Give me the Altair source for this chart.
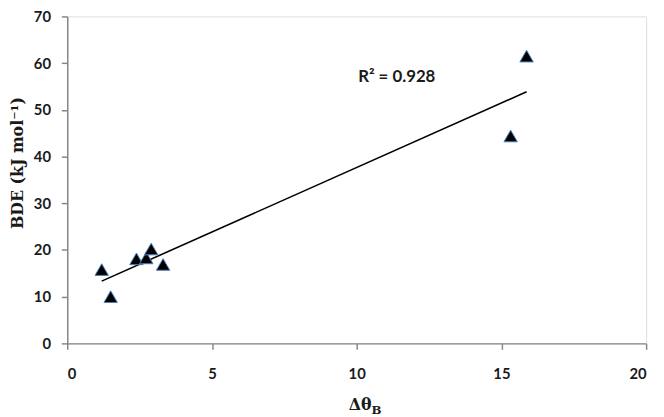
import altair as alt
import pandas as pd

# Data
delta_theta_b = [1.19, 1.50, 2.39, 2.73, 2.90, 3.31, 15.32, 15.87]
bde = [15.8, 10.0, 18.1, 18.3, 20.2, 16.9, 44.4, 61.5]
r2_label = ["R² = 0.928"]

df = pd.DataFrame({"x": delta_theta_b, "y": bde})

W, H = 586, 331
label_font = "Lato"
title_font = "DejaVu Serif"
axis_grey = "#878787"
ink = "#1a1a1a"

xscale = alt.Scale(domain=[0, 20], nice=False, zero=True)
yscale = alt.Scale(domain=[0, 70], nice=False, zero=True)

base = alt.Chart(df)

points = base.mark_point(
    shape="triangle-up", filled=True, fill="black", stroke="#4f81bd",
    strokeWidth=1, size=185, opacity=1
).encode(
    x=alt.X("x:Q", scale=xscale, axis=alt.Axis(
        values=[0, 5, 10, 15, 20], title=None, grid=False,
        domainColor=axis_grey, domainWidth=1.5, tickColor=axis_grey,
        tickWidth=1.5, tickSize=6, labelPadding=18, labelFont=label_font,
        labelFontWeight="bold", labelFontSize=15, labelColor=ink)),
    y=alt.Y("y:Q", scale=yscale, axis=alt.Axis(
        values=[0, 10, 20, 30, 40, 50, 60, 70], title="BDE (kJ mol⁻¹)",
        grid=False, domainColor=axis_grey, domainWidth=1.5,
        tickColor=axis_grey, tickWidth=1.5, tickSize=6, labelPadding=11,
        labelFont=label_font, labelFontWeight="bold", labelFontSize=15,
        labelColor=ink, titleFont=title_font, titleFontWeight="bold",
        titleFontSize=16, titleColor=ink, titleX=-50, titleY=148,
        titleAngle=270, titleAlign="center", titleBaseline="middle")),
)

trend = base.transform_regression("x", "y", method="linear").mark_line(
    color="black", strokeWidth=1.6
).encode(x=alt.X("x:Q", scale=xscale), y=alt.Y("y:Q", scale=yscale))

r2 = alt.Chart(pd.DataFrame({"t": r2_label})).mark_text(
    align="left", baseline="middle", font=label_font, fontWeight="bold",
    fontSize=17, color=ink
).encode(x=alt.datum(10.05, scale=xscale), y=alt.datum(57.0, scale=yscale), text="t:N")

xt1 = alt.Chart(pd.DataFrame({"t": ["Δθ"]})).mark_text(
    align="left", baseline="alphabetic", font=title_font, fontWeight="bold",
    fontSize=16, color=ink
).encode(x=alt.value(285), y=alt.value(398), text="t:N")

xt2 = alt.Chart(pd.DataFrame({"t": ["B"]})).mark_text(
    align="left", baseline="alphabetic", font=title_font, fontWeight="bold",
    fontSize=12, color=ink
).encode(x=alt.value(308), y=alt.value(402), text="t:N")

chart = alt.layer(trend, points, r2, xt1, xt2).properties(
    width=W, height=H,
    autosize=alt.AutoSizeParams(type="none"),
    padding={"left": 60, "top": 6, "right": 10, "bottom": 72},
).configure_view(stroke=None).configure(background="white")

chart.save("out.html", embed_options={"renderer": "svg", "actions": False})
